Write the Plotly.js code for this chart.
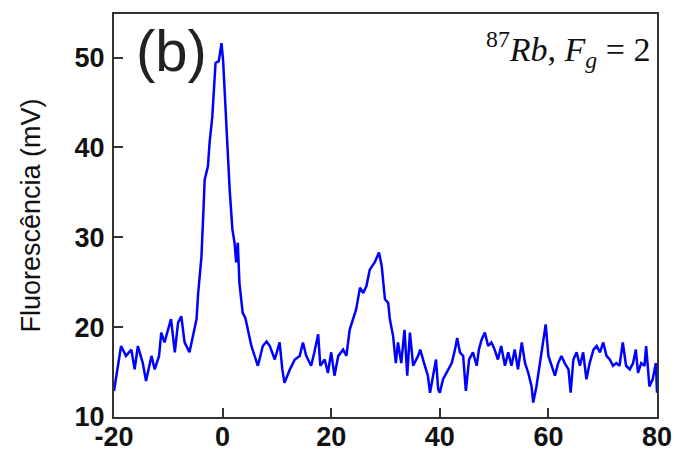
<!DOCTYPE html>
<html>
<head>
<meta charset="utf-8">
<script src="https://cdn.plot.ly/plotly-3.0.1.min.js"></script>
<style>html,body{margin:0;padding:0;background:#fff;}#chart{width:678px;height:449px;}</style>
</head>
<body>
<div id="chart"></div>
<script>
// Detuning (MHz) and fluorescence (mV)
const detuning = [
  -20, -19.3, -18.7, -17.8, -16.8, -16.2, -15.6, -14.7, -14.1, -13.1, -12.5, -11.7, -11.3, -10.7, -10.1,
  -9.5, -8.8, -8.2, -7.6, -7.0, -6.1, -5.5, -4.8, -4.5, -3.9, -3.5, -3.3, -2.7, -2.4, -1.9, -1.6, -1.3,
  -0.7, -0.2, 0.1, 0.4, 0.8, 1.3, 1.8, 2.2, 2.5, 2.8, 3.1, 3.7, 4.2, 4.7, 5.3, 6.5, 7.4, 8.1, 8.7, 9.6,
  10.5, 11.0, 11.4, 12.4, 13.3, 14.2, 14.8, 15.4, 16.3, 16.9, 17.6, 18.0, 18.8, 19.4, 20.0, 20.6, 21.3,
  22.2, 22.8, 23.4, 24.0, 24.6, 25.3, 25.9, 26.5, 27.1, 28.0, 28.8, 29.3, 29.9, 30.5, 30.8, 31.4, 31.9,
  32.3, 32.9, 33.5, 34.0, 34.5, 35.1, 36.0, 36.4, 37.1, 37.8, 38.2, 38.8, 39.3, 39.7, 40.0, 40.6, 41.2,
  42.2, 42.8, 43.2, 43.7, 44.3, 44.8, 45.4, 46.1, 46.8, 47.2, 47.7, 48.3, 48.9, 49.5, 50.1, 50.7, 51.3,
  52.0, 52.6, 53.2, 53.8, 54.4, 55.1, 55.7, 56.3, 56.9, 57.2, 57.8, 58.4, 58.9, 59.5, 60.0, 60.6, 61.2,
  61.8, 62.4, 63.0, 63.7, 64.1, 64.6, 65.2, 65.8, 66.4, 67.0, 67.6, 68.3, 68.9, 69.5, 70.1, 70.7, 71.3,
  71.9, 72.5, 73.1, 73.7, 74.3, 75.0, 75.6, 76.1, 76.5, 77.1, 77.7, 78.0, 78.6, 79.2, 79.8, 80.0
];
const fluorescence = [
  12.9, 15.7, 17.9, 16.8, 17.5, 15.3, 17.9, 16.0, 14.0, 16.8, 15.3, 16.8, 19.4, 18.3, 19.7,
  20.9, 17.2, 20.5, 21.2, 18.3, 17.2, 19.0, 20.9, 23.8, 27.8, 33.4, 36.4, 37.9, 40.5, 43.4, 46.4, 49.4,
  49.6, 51.6, 49.6, 45.7, 40.9, 35.3, 30.9, 29.4, 27.2, 29.4, 24.9, 21.6, 21.0, 19.7, 17.9, 15.7, 17.9, 18.4, 17.9, 16.4,
  18.3, 15.3, 13.8, 15.3, 16.4, 16.8, 18.3, 16.8, 15.7, 17.2, 19.2, 15.7, 16.4, 14.9, 17.2, 14.6, 16.8,
  17.5, 16.8, 19.7, 20.9, 22.0, 24.4, 23.8, 24.6, 26.4, 27.2, 28.3, 26.8, 23.1, 22.7, 20.9, 19.0, 16.0,
  18.3, 16.0, 19.7, 14.6, 19.4, 15.7, 16.8, 17.5, 16.0, 14.6, 12.7, 14.6, 16.4, 13.1, 12.7, 14.2, 14.9,
  16.0, 17.5, 18.8, 17.2, 16.8, 12.9, 16.4, 17.2, 15.7, 17.5, 18.6, 19.4, 17.9, 18.3, 17.5, 16.4, 17.9,
  15.7, 17.2, 15.7, 17.5, 15.3, 18.3, 16.0, 14.9, 13.4, 11.6, 13.4, 15.7, 17.5, 20.3, 16.8, 15.7, 14.6,
  16.0, 16.8, 16.0, 15.3, 12.7, 16.4, 17.2, 15.7, 17.2, 14.2, 16.0, 17.5, 17.9, 17.2, 18.3, 16.8, 16.4,
  15.7, 16.0, 15.7, 18.3, 15.7, 15.3, 16.0, 17.5, 14.9, 16.0, 15.7, 17.9, 13.4, 14.2, 16.0, 12.7
];
const xTicks = [-20, 0, 20, 40, 60, 80];
const yTicks = [10, 20, 30, 40, 50];
const yTitle = 'Fluorescência (mV)';
const panelLabel = '(b)';
const speciesLabel = '<sup>87</sup><i>Rb</i>, <i>F</i><sub><i>g</i></sub> = 2';

const trace = {
  x: detuning, y: fluorescence, type: 'scatter', mode: 'lines',
  line: {color: '#0000ff', width: 2.5}, hoverinfo: 'skip'
};
const axisCommon = {
  showgrid: false, zeroline: false, showline: true, linecolor: '#333', linewidth: 2,
  mirror: true, ticks: 'inside', ticklen: 9, tickwidth: 2, tickcolor: '#333',
  tickfont: {family: 'Liberation Sans, Arial, sans-serif', size: 27, color: '#111', weight: 'bold'}
};
const layout = {
  width: 678, height: 449,
  margin: {l: 114, r: 21, t: 14, b: 32},
  paper_bgcolor: '#fff', plot_bgcolor: '#fff', showlegend: false,
  xaxis: Object.assign({}, axisCommon, {range: [-20, 80], tickvals: xTicks, ticktext: xTicks.map(String), ticklabelstandoff: -5}),
  yaxis: Object.assign({}, axisCommon, {range: [10, 54.85], tickvals: yTicks, ticktext: yTicks.map(String), ticklabelstandoff: 2,
    title: {text: yTitle, standoff: 26, font: {family: 'Liberation Sans, Arial, sans-serif', size: 27, color: '#111'}}}),
  annotations: [
    {text: panelLabel, xref: 'paper', yref: 'paper', x: 0.037, y: 0.995, xanchor: 'left', yanchor: 'top',
     showarrow: false, font: {family: 'Liberation Sans, Arial, sans-serif', size: 58, color: '#222'}},
    {text: speciesLabel, xref: 'paper', yref: 'paper', x: 0.99, y: 0.975, xanchor: 'right', yanchor: 'top',
     showarrow: false, font: {family: 'Liberation Serif, Times New Roman, serif', size: 34, color: '#111'}}
  ]
};
Plotly.newPlot('chart', [trace], layout, {staticPlot: true, displayModeBar: false});
</script>
</body>
</html>
